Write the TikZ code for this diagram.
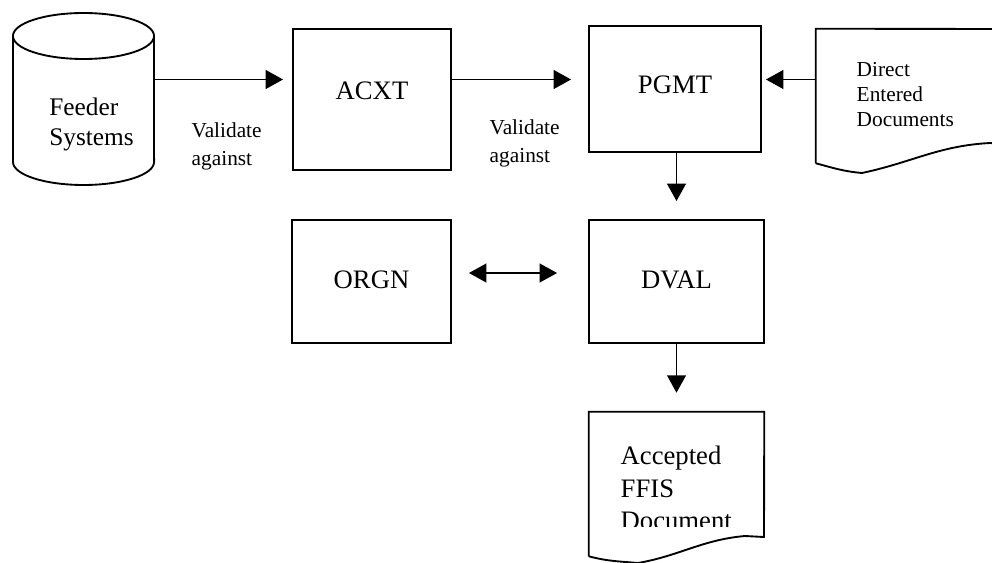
\documentclass[tikz,border=0pt]{standalone}
\usepackage{fontspec}
\setmainfont{Liberation Serif}
\usetikzlibrary{arrows.meta}
\tikzstyle{box}=[draw,line width=1.4pt,inner sep=0pt]
\tikzstyle{boxlbl}=[font=\fontsize{20}{24}\selectfont]
\tikzstyle{shapearea}=[inner sep=0pt]
\tikzstyle{arr}=[-{Triangle[length=13pt,width=14pt]},line width=1.4pt]
\tikzstyle{dblarr}=[{Triangle[length=13pt,width=14pt]}-{Triangle[length=13pt,width=14pt]},line width=1.4pt]

\begin{document}
\begin{tikzpicture}[x=0.75pt,y=-0.75pt]
\useasboundingbox (0,0) rectangle (992,563);

\node[box,minimum width=118.5pt,minimum height=105.75pt,label={[boxlbl,yshift=6.4pt]center:ACXT}] at (372,99.5) (acxt) {};
\node[box,minimum width=129pt,minimum height=94.5pt,label={[boxlbl,yshift=3pt]center:PGMT}] at (675,89) (pgmt) {};
\node[box,minimum width=131.25pt,minimum height=92.25pt,label={[boxlbl,yshift=1pt]center:DVAL}] at (676.5,281.5) (dval) {};
\node[box,minimum width=119.25pt,minimum height=92.25pt,label={[boxlbl,yshift=1.5pt]center:ORGN}] at (371.5,281.5) (orgn) {};

% feeder systems store
\node[shapearea,minimum width=105.75pt,minimum height=129pt] at (83.5,99) (feeder) {};
\draw[line width=1.4pt] (13,36) -- (13,162) arc[start angle=180,end angle=360,x radius=52.9pt,y radius=17.25pt] -- (154,36);
\draw[line width=1.4pt] (83.5,36) ellipse[x radius=52.9pt,y radius=17.25pt];
\node[font=\fontsize{19}{22.5}\selectfont,align=left] at (91.5,124) (feedertxt) {Feeder\\Systems};

% documents
\node[shapearea,minimum width=138pt,minimum height=100.5pt] at (908,96) (direct) {};
\draw[line width=1.4pt] (direct.south west) -- (direct.north west) -- (1000,29) -- (1000,144)
  -- (990,143) to[out=183,in=12] (862,173) to[out=175,in=-15] (direct.south west);
\node[font=\fontsize{16}{18.75}\selectfont,align=left,anchor=west] at (852,95) (directtxt) {Direct\\Entered\\Documents};

\node[shapearea,minimum width=131.25pt,minimum height=108pt] at (676.5,484) (accepted) {};
\draw[line width=1.4pt] (accepted.south west) -- (accepted.north west) -- (accepted.north east) -- (764,537)
  -- (745,536) to[out=185,in=10] (638,563) to[out=175,in=-15] (accepted.south west);
\begin{scope}
\clip (589,412) rectangle (764,526.5);
\node[font=\fontsize{20}{24.5}\selectfont,align=left,anchor=west] at (616,488) (acctxt) {Accepted\\FFIS\\Document};
\end{scope}

\coordinate (row) at (0,79.5);
\coordinate (mid) at (0,273);
\draw[arr,shorten >=6.75pt] (feeder.east |- row) -- (acxt.west |- row);
\draw[arr,shorten >=12.75pt] (acxt.east |- row) -- (pgmt.west |- row);
\draw[arr,shorten >=3pt] (direct.west |- row) -- (pgmt.east |- row);
\draw[arr,shorten >=13.5pt] (dval.north |- pgmt.south) -- (dval.north);
\draw[arr,shorten >=14.25pt] (dval.south) -- (accepted.north);
\draw[dblarr,shorten <=12.75pt,shorten >=23.25pt] (orgn.east |- mid) -- (dval.west |- mid);

\node[font=\fontsize{16}{21}\selectfont,align=left,anchor=west] at (187,146) (val1) {Validate\\against};
\node[font=\fontsize{16}{21}\selectfont,align=left,anchor=west] at (485,143) (val2) {Validate\\against};

\end{tikzpicture}
\end{document}
